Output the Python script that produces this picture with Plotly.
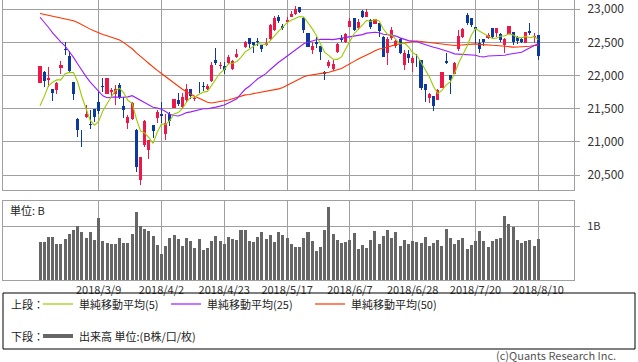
import plotly.graph_objects as go
import pandas as pd

# ---------------- data ----------------
dates = ["2018/2/19","2018/2/20","2018/2/21","2018/2/22","2018/2/23","2018/2/26","2018/2/27","2018/2/28",
 "2018/3/1","2018/3/2","2018/3/5","2018/3/6","2018/3/7","2018/3/8","2018/3/9","2018/3/12","2018/3/13","2018/3/14","2018/3/15","2018/3/16","2018/3/19","2018/3/20","2018/3/22","2018/3/23","2018/3/26","2018/3/27","2018/3/28","2018/3/29","2018/3/30",
 "2018/4/2","2018/4/3","2018/4/4","2018/4/5","2018/4/6","2018/4/9","2018/4/10","2018/4/11","2018/4/12","2018/4/13","2018/4/16","2018/4/17","2018/4/18","2018/4/19","2018/4/20","2018/4/23","2018/4/24","2018/4/25","2018/4/26","2018/4/27",
 "2018/5/1","2018/5/2","2018/5/7","2018/5/8","2018/5/9","2018/5/10","2018/5/11","2018/5/14","2018/5/15","2018/5/16","2018/5/17","2018/5/18","2018/5/21","2018/5/22","2018/5/23","2018/5/24","2018/5/25","2018/5/28","2018/5/29","2018/5/30","2018/5/31",
 "2018/6/1","2018/6/4","2018/6/5","2018/6/6","2018/6/7","2018/6/8","2018/6/11","2018/6/12","2018/6/13","2018/6/14","2018/6/15","2018/6/18","2018/6/19","2018/6/20","2018/6/21","2018/6/22","2018/6/25","2018/6/26","2018/6/27","2018/6/28","2018/6/29",
 "2018/7/2","2018/7/3","2018/7/4","2018/7/5","2018/7/6","2018/7/9","2018/7/10","2018/7/11","2018/7/12","2018/7/13","2018/7/17","2018/7/18","2018/7/19","2018/7/20","2018/7/23","2018/7/24","2018/7/25","2018/7/26","2018/7/27","2018/7/30","2018/7/31",
 "2018/8/1","2018/8/2","2018/8/3","2018/8/6","2018/8/7","2018/8/8","2018/8/9","2018/8/10"]

open_ = [21891,22058,21932,21795,21780,22108,22395,22294,
 21896,21352,21050,21377,21277,21493,21600,21840,21720,21755,21720,21857,21538,21287,21342,21186,20420,20950,20873,21251,21367,
 21427,21115,21427,21518,21639,21528,21630,21805,21640,21790,21850,21800,21921,22234,22140,22138,22194,22098,22274,22455,
 22435,22562,22511,22511,22461,22461,22546,22688,22889,22750,22814,22889,22930,23030,22864,22637,22380,22500,22445,22058,22148,
 22098,22360,22572,22511,22738,22869,22718,22980,22889,22839,22778,22788,22577,22335,22562,22440,22546,22158,22320,22194,22310,
 22234,21880,21659,21689,21639,21820,22220,22007,22022,22395,22587,22914,22864,22728,22486,22546,22561,22713,22637,22627,22461,
 22627,22662,22582,22546,22496,22672,22587,22612]

high = [22158,22073,22133,21800,21906,22219,22501,22375,
 21900,21360,21176,21554,21478,21500,21750,21968,21970,21820,21856,21890,21680,21400,21600,21190,20770,21327,21034,21255,21478,
 21604,21427,21450,21730,21740,21740,21880,21805,21680,21900,21900,21870,22208,22420,22208,22208,22310,22234,22395,22496,
 22526,22562,22511,22562,22461,22562,22778,22900,22914,22778,22889,22970,23050,23040,22889,22637,22512,22577,22445,22073,22234,
 22234,22496,22607,22637,22869,22869,22849,22990,23010,22849,22870,22788,22590,22577,22728,22537,22562,22385,22385,22294,22320,
 22234,21880,21740,21689,21805,22083,22340,22007,22209,22688,22718,22939,22870,22728,22546,22546,22647,22713,22713,22642,22562,
 22778,22662,22602,22572,22662,22798,22637,22612]

low = [21846,21821,21821,21619,21720,22022,22310,22047,
 21629,21075,20924,21367,21201,21300,21420,21750,21720,21680,21555,21650,21367,21201,21327,20546,20344,20925,20747,21065,21286,
 21287,21035,21240,21500,21540,21500,21600,21640,21620,21740,21770,21780,21906,22158,22100,22030,22180,22083,22259,22335,
 22410,22410,22345,22450,22360,22450,22536,22678,22798,22688,22798,22889,22910,22940,22637,22410,22320,22410,22239,21930,22108,
 22073,22345,22501,22496,22728,22678,22688,22864,22880,22700,22740,22580,22274,22158,22536,22420,22325,22083,22194,22047,22123,
 21780,21600,21589,21462,21629,21805,22173,21720,22022,22375,22560,22770,22740,22480,22335,22445,22546,22561,22586,22511,22345,
 22612,22461,22480,22485,22486,22612,22496,22234]

close = [22149,21925,21970,21736,21892,22153,22389,22068,
 21724,21181,21042,21417,21252,21368,21469,21824,21968,21777,21803,21676,21480,21380,21591,20617,20766,21317,21031,21159,21454,
 21388,21292,21319,21645,21567,21678,21794,21687,21660,21778,21835,21847,22158,22191,22162,22088,22278,22215,22319,22467,
 22508,22472,22467,22508,22408,22497,22758,22865,22818,22717,22838,22930,23002,22960,22689,22437,22450,22481,22358,22018,22201,
 22171,22475,22539,22625,22823,22694,22804,22878,22966,22738,22851,22680,22278,22555,22693,22516,22338,22342,22271,22270,22304,
 21811,21785,21717,21546,21788,22052,22196,21932,22187,22597,22697,22794,22764,22697,22397,22510,22614,22586,22712,22544,22553,
 22746,22512,22525,22507,22662,22644,22598,22298]

# closes before the visible window (2017/12/5 - 2018/2/16), used by the moving averages
prior_close = [22622,22177,22498,22811,22938,22866,22758,22694,22553,22901,22868,22891,22866,22902,22939,22892,22911,22783,22764,
 23506,23714,23849,23788,23710,23653,23714,23951,23868,23763,23808,23816,24124,23940,23669,23631,23629,23291,23098,
 23486,23274,22682,21610,21645,21890,21382,21244,21154,21464,21720]

volume_b = [0.71,0.71,0.81,0.81,0.675,0.675,0.77,0.86,0.94,1.01,0.90,0.79,0.90,0.75,1.16,0.73,0.69,0.675,0.675,0.79,
 0.69,0.69,0.86,1.275,1.01,0.96,0.92,0.825,0.66,0.49,0.64,0.79,0.84,0.77,0.64,0.79,0.73,0.60,0.77,0.56,
 0.60,0.73,0.825,0.73,0.675,0.81,0.77,0.75,0.94,0.94,0.73,0.71,0.81,0.90,0.77,0.84,0.71,0.90,0.84,0.79,
 0.675,0.62,0.62,0.79,0.90,0.73,0.54,0.62,0.94,1.37,0.86,0.75,0.69,0.71,0.75,0.88,0.58,0.66,0.60,0.75,
 0.92,0.675,0.825,0.94,0.79,0.90,0.64,0.75,0.675,0.73,0.71,0.69,0.81,0.64,0.69,0.75,0.64,0.96,0.79,0.675,
 0.75,0.79,0.58,0.66,0.73,0.92,0.73,0.62,0.73,0.77,0.79,1.20,1.05,0.99,0.75,0.69,0.73,0.75,0.64,0.77]

tick_dates = ["2018/3/9","2018/4/2","2018/4/23","2018/5/17","2018/6/7","2018/6/28","2018/7/20","2018/8/10"]
price_ticks = [20500, 21000, 21500, 22000, 22500, 23000]
ma_periods = [5, 25, 50]
ma_labels = ["単純移動平均(5)", "単純移動平均(25)", "単純移動平均(50)"]

# ---------------- derived ----------------
n = len(dates)
all_close = pd.Series(prior_close + close)
ma = {p: all_close.rolling(p).mean().tolist()[-n:] for p in ma_periods}

UP, DOWN = "#ee1848", "#0b3a9c"
cols = [UP if c >= o else DOWN for o, c in zip(open_, close)]
body_base = [min(o, c) for o, c in zip(open_, close)]
body_h = [max(abs(c - o), 8) for o, c in zip(open_, close)]
wick_h = [h - l for h, l in zip(high, low)]

FONT = "Noto Sans CJK JP"
GRID = "#a0a0a0"

fig = go.Figure()
fig.add_trace(go.Bar(x=dates, y=wick_h, base=low, width=0.22, marker=dict(color=cols, line=dict(width=0)),
                     xaxis="x", yaxis="y", showlegend=False, hoverinfo="skip"))
fig.add_trace(go.Bar(x=dates, y=body_h, base=body_base, width=0.74, marker=dict(color=cols, line=dict(width=0)),
                     xaxis="x", yaxis="y", showlegend=False, hoverinfo="skip"))

ma_colors = {5: "#99cc00", 25: "#9b1cff", 50: "#ff3300"}
for p in [50, 25, 5]:
    fig.add_trace(go.Scatter(x=dates, y=ma[p], mode="lines", line=dict(color=ma_colors[p], width=1.1),
                             xaxis="x", yaxis="y", showlegend=False, hoverinfo="skip"))

fig.add_trace(go.Bar(x=dates, y=volume_b, width=0.72, marker=dict(color="#666666", line=dict(width=0)),
                     xaxis="x2", yaxis="y2", showlegend=False, hoverinfo="skip"))

W, H = 638, 362
ML, MR, MT, MB = 3, 64, 0, 82
PW, PH = W - ML - MR, H - MT - MB

def px(xp):
    return (xp - ML) / PW

def py(yp):
    return (H - MB - yp) / PH

axis_common = dict(showline=True, mirror=True, linecolor=GRID, linewidth=1, gridcolor=GRID, gridwidth=1,
                   zeroline=False, automargin=False)

fig.update_layout(
    width=W, height=H, margin=dict(l=ML, r=MR, t=MT, b=MB, autoexpand=False),
    paper_bgcolor="white", plot_bgcolor="white", barmode="overlay", bargap=0,
    font=dict(family=FONT, size=11, color="#333333"),
    xaxis=dict(domain=[0, 1], anchor="y", type="category", categoryorder="array", categoryarray=dates,
               range=[-8.84, n - 1 + 8.53], tickvals=tick_dates, showticklabels=False, ticks="",
               showgrid=True, **axis_common),
    yaxis=dict(domain=[py(190), 1], anchor="x", side="right", range=[20274, 23140], tickvals=price_ticks,
               tickformat=",d", showgrid=True, ticks="outside", ticklen=5, tickcolor=GRID,
               ticklabelstandoff=5, ticklabeloverflow="allow", tickfont=dict(size=12, color="#333333"),
               **axis_common),
    xaxis2=dict(domain=[0, 1], anchor="y2", type="category", categoryorder="array", categoryarray=dates,
                matches="x", tickvals=tick_dates, ticktext=tick_dates, ticks="", showgrid=True,
                ticklabelstandoff=0, ticklabeloverflow="allow", tickfont=dict(size=11, color="#333333"),
                **axis_common),
    yaxis2=dict(domain=[0, py(201)], anchor="x2", side="right", range=[0, 1.48], tickvals=[1], ticktext=["1B"],
                showgrid=True, ticks="outside", ticklen=5, tickcolor=GRID, ticklabelstandoff=5,
                ticklabeloverflow="allow", tickfont=dict(size=11, color="#333333"), **axis_common),
)

shapes = [
    dict(type="rect", xref="paper", yref="paper", x0=px(3), x1=px(635), y0=py(293), y1=py(349),
         line=dict(color="#000000", width=1), fillcolor="rgba(0,0,0,0)"),
    dict(type="line", xref="paper", yref="paper", x0=px(43), x1=px(73), y0=py(304), y1=py(304),
         line=dict(color=ma_colors[5], width=1.2)),
    dict(type="line", xref="paper", yref="paper", x0=px(171), x1=px(201), y0=py(304), y1=py(304),
         line=dict(color=ma_colors[25], width=1.2)),
    dict(type="line", xref="paper", yref="paper", x0=px(315), x1=px(345), y0=py(304), y1=py(304),
         line=dict(color=ma_colors[50], width=1.2)),
    dict(type="line", xref="paper", yref="paper", x0=px(43), x1=px(73), y0=py(336), y1=py(336),
         line=dict(color="#666666", width=4)),
]

def ann(text, x, y, anchor="left", size=11, color="#222222"):
    return dict(text=text, xref="paper", yref="paper", x=px(x), y=py(y), xanchor=anchor, yanchor="middle",
                showarrow=False, font=dict(family=FONT, size=size, color=color))

annotations = [
    ann("単位: B", 8, 210),
    ann("上段：", 9, 304),
    ann(ma_labels[0], 77, 304),
    ann(ma_labels[1], 205, 304),
    ann(ma_labels[2], 349, 304),
    ann("下段：", 9, 336),
    ann("出来高 単位:(B株/口/枚)", 77, 336),
    ann("(c)Quants Research Inc.", 618, 355, anchor="right", size=11, color="#555555"),
]
fig.update_layout(shapes=shapes, annotations=annotations)

fig.write_html("out.html", config={"displayModeBar": False, "staticPlot": True},
               post_script="document.body.style.margin='0';document.body.style.overflow='hidden';")
